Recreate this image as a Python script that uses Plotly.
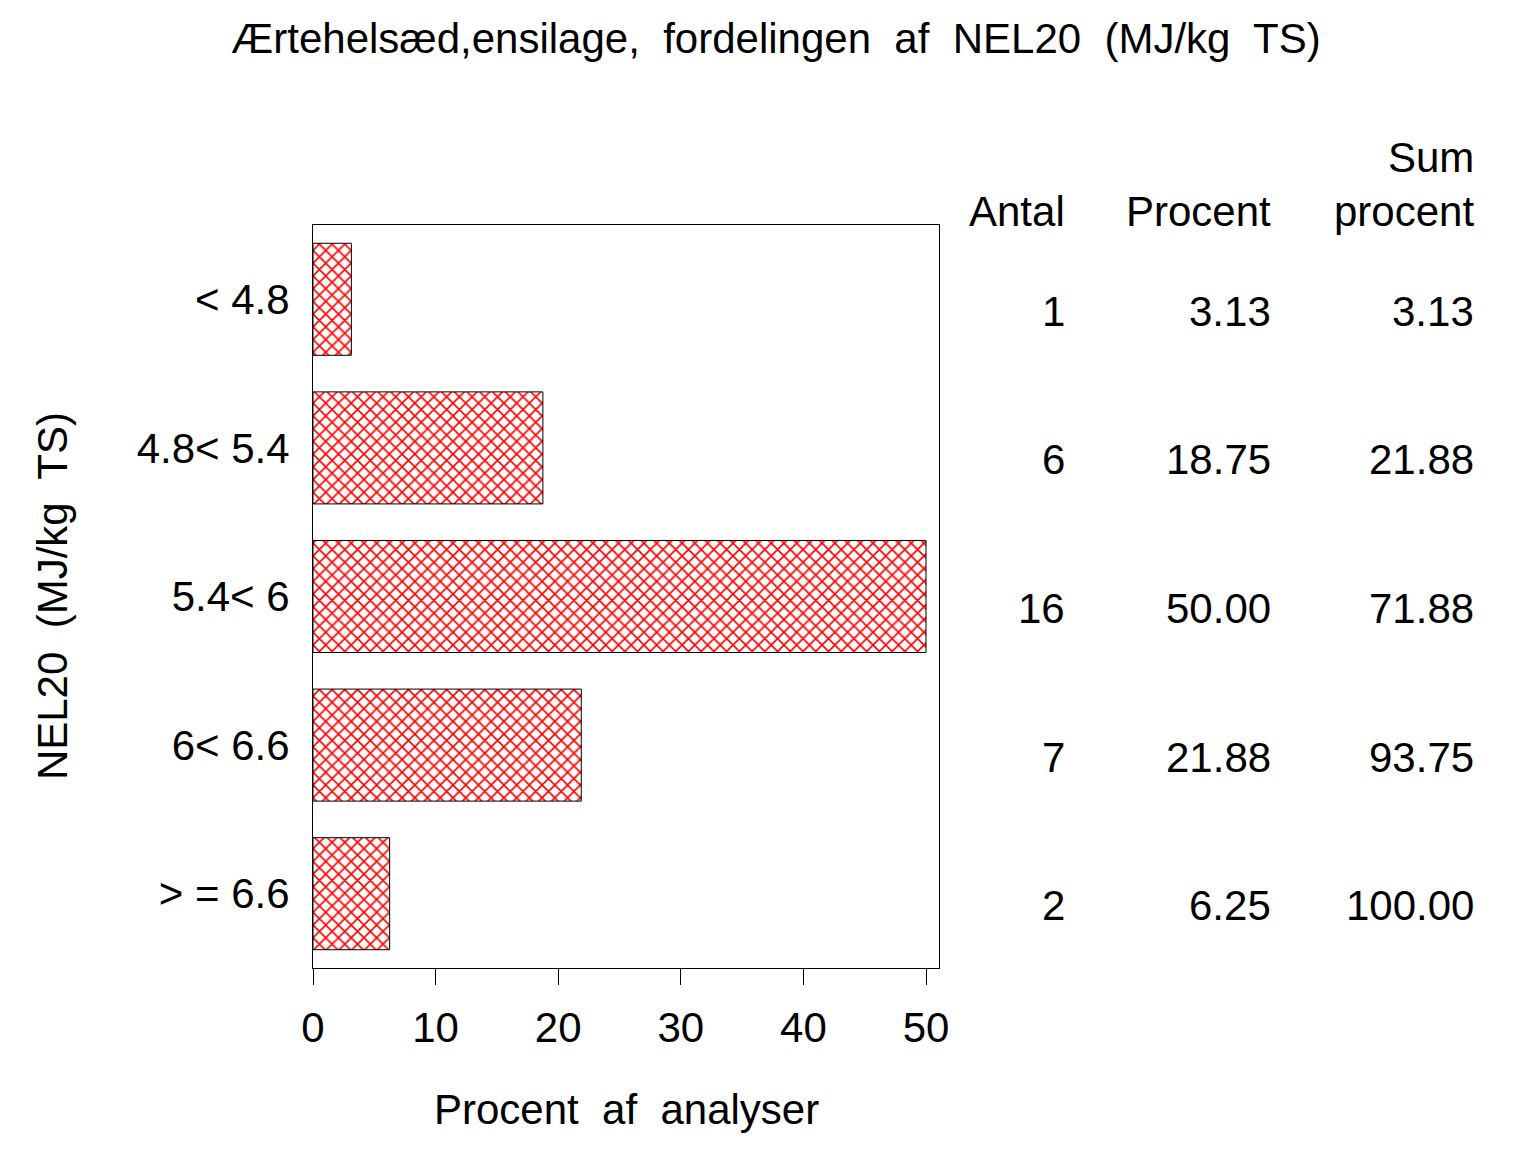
import plotly.graph_objects as go

categories = ["< 4.8", "4.8< 5.4", "5.4< 6", "6< 6.6", "> = 6.6"]
antal = [1, 6, 16, 7, 2]
procent = [3.13, 18.75, 50.00, 21.88, 6.25]
sum_procent = [3.13, 21.88, 71.88, 93.75, 100.00]
x_ticks = [0, 10, 20, 30, 40, 50]

FONT = "Liberation Sans, Arial, sans-serif"
FS = 42

fig = go.Figure()
fig.add_trace(go.Bar(
    x=procent, y=categories, orientation="h",
    marker=dict(color="white",
                line=dict(color="black", width=1),
                pattern=dict(shape="x", fgcolor="#ff0000", bgcolor="white", size=9,
                             solidity=0.33, fgopacity=1)),
    showlegend=False,
))

ann = []
cols = [(1.2045, "Antal", None), (1.5335, "Procent", None), (1.858, "procent", "Sum")]
for xp, h, h2 in cols:
    ann.append(dict(x=xp, y=1.0188, xref="paper", yref="paper", text=h, showarrow=False,
                    xanchor="right", yanchor="middle", font=dict(size=FS, family=FONT, color="black")))
    if h2:
        ann.append(dict(x=xp, y=1.0915, xref="paper", yref="paper", text=h2, showarrow=False,
                        xanchor="right", yanchor="middle", font=dict(size=FS, family=FONT, color="black")))
for c, a, p, s in zip(categories, antal, procent, sum_procent):
    for xp, txt in [(1.2045, f"{a}"), (1.5335, f"{p:.2f}"), (1.858, f"{s:.2f}")]:
        ann.append(dict(x=xp, y=c, xref="paper", yref="y", text=txt, showarrow=False,
                        xanchor="right", yanchor="middle", yshift=-12,
                        font=dict(size=FS, family=FONT, color="black")))
ann.append(dict(x=0.5, y=-0.19, xref="paper", yref="paper", text="Procent  af  analyser",
                showarrow=False, xanchor="center", yanchor="middle",
                font=dict(size=FS, family=FONT, color="black")))
ann.append(dict(x=-0.416, y=0.5, xref="paper", yref="paper", text="NEL20  (MJ/kg  TS)",
                showarrow=False, xanchor="center", yanchor="middle", textangle=-90,
                font=dict(size=FS, family=FONT, color="black")))

fig.update_layout(
    width=1536, height=1152,
    margin=dict(l=305, r=605, t=217, b=192),
    paper_bgcolor="white", plot_bgcolor="white",
    bargap=0.246,
    font=dict(family=FONT, size=FS, color="black"),
    title=dict(text="Ærtehelsæd,ensilage,  fordelingen  af  NEL20  (MJ/kg  TS)",
               x=0.5, xanchor="center", y=1 - 30 / 1152, yanchor="middle",
               font=dict(size=FS, family=FONT, color="black")),
    xaxis=dict(range=[0, 51.06], tickvals=x_ticks, ticks="outside", ticklen=16,
               tickcolor="black", showline=True, linecolor="black", linewidth=1,
               mirror=True, showgrid=False, zeroline=False, ticklabelstandoff=7,
               tickfont=dict(size=FS, family=FONT, color="black")),
    yaxis=dict(categoryorder="array", categoryarray=categories, range=[4.5, -0.5],
               ticks="", showline=True, linecolor="black", linewidth=1, mirror=True,
               showgrid=False, zeroline=False, ticklabelstandoff=14,
               tickfont=dict(size=FS, family=FONT, color="black")),
    annotations=ann,
)

fig.write_html("out.html")
